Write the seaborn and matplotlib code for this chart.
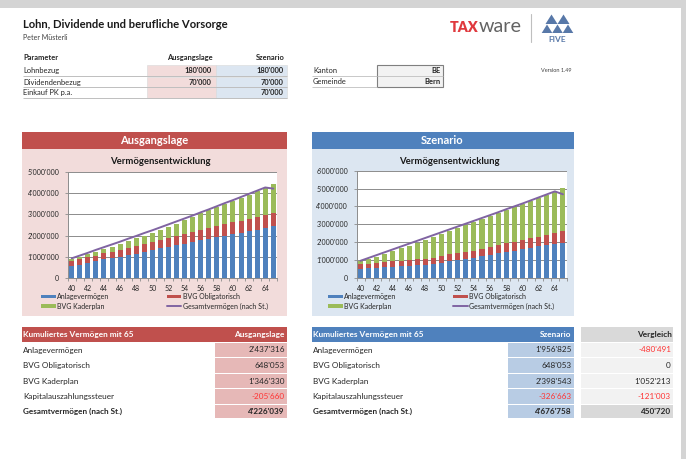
import numpy as np
import pandas as pd
import matplotlib
matplotlib.use("Agg")
import matplotlib.pyplot as plt
from matplotlib.patches import Rectangle, Polygon
from matplotlib.ticker import FuncFormatter, FixedLocator
import seaborn as sns

# ---------------- data ----------------
ages = [40, 41, 42, 43, 44, 45, 46, 47, 48, 49, 50, 51, 52,
        53, 54, 55, 56, 57, 58, 59, 60, 61, 62, 63, 64, 65]

anlage_A = [570000, 620000, 700000, 780000, 870000, 920000, 980000, 1060000, 1140000, 1220000,
            1300000, 1390000, 1460000, 1530000, 1600000, 1680000, 1770000, 1840000, 1910000,
            1980000, 2060000, 2130000, 2200000, 2270000, 2340000, 2437316]
oblig_A = [220000, 250000, 270000, 270000, 280000, 310000, 330000, 350000, 370000, 390000,
           400000, 420000, 430000, 450000, 460000, 470000, 480000, 510000, 530000, 550000,
           570000, 580000, 600000, 620000, 640000, 648053]
kader_A = [100000, 100000, 140000, 160000, 200000, 250000, 290000, 340000, 360000, 390000,
           410000, 460000, 510000, 590000, 680000, 750000, 800000, 850000, 910000, 970000,
           1010000, 1080000, 1140000, 1210000, 1290000, 1346330]
gesamt_A = [920000, 1050000, 1180000, 1320000, 1450000, 1580000, 1710000, 1850000, 1980000,
            2120000, 2250000, 2390000, 2530000, 2670000, 2810000, 2950000, 3100000, 3240000,
            3390000, 3540000, 3680000, 3830000, 3980000, 4130000, 4280000, 4226039]

anlage_S = [500000, 530000, 560000, 600000, 620000, 640000, 670000, 700000, 730000, 760000,
            840000, 930000, 980000, 1030000, 1120000, 1200000, 1290000, 1370000, 1450000,
            1520000, 1600000, 1680000, 1760000, 1830000, 1900000, 1956825]
oblig_S = [260000, 260000, 270000, 280000, 290000, 310000, 330000, 330000, 340000, 360000,
           360000, 390000, 390000, 390000, 400000, 400000, 410000, 440000, 470000, 480000,
           490000, 520000, 520000, 540000, 580000, 648053]
kader_S = [170000, 260000, 350000, 470000, 590000, 690000, 800000, 930000, 1060000, 1180000,
           1250000, 1300000, 1400000, 1510000, 1580000, 1670000, 1740000, 1800000, 1860000,
           1950000, 2030000, 2090000, 2170000, 2250000, 2320000, 2398543]
gesamt_S = [950000, 1110000, 1270000, 1430000, 1590000, 1750000, 1910000, 2070000, 2230000,
            2390000, 2550000, 2710000, 2870000, 3030000, 3190000, 3350000, 3510000, 3670000,
            3840000, 4000000, 4160000, 4330000, 4500000, 4670000, 4840000, 4676758]

legend_labels = ["Anlagevermögen", "BVG Obligatorisch", "BVG Kaderplan", "Gesamtvermögen (nach St.)"]

param_labels = ["Lohnbezug", "Dividendenbezug", "Einkauf PK p.a."]
param_A = [180000, 70000, None]
param_S = [180000, 70000, 70000]
ort_labels = ["Kanton", "Gemeinde"]
ort_values = ["BE", "Bern"]

table_labels = ["Anlagevermögen", "BVG Obligatorisch", "BVG Kaderplan",
                "Kapitalauszahlungssteuer", "Gesamtvermögen (nach St.)"]
table_A = [2437316, 648053, 1346330, -205660, 4226039]
table_S = [1956825, 648053, 2398543, -326663, 4676758]
table_V = [-480491, 0, 1052213, -121003, 450720]

# ---------------- style ----------------
sns.set_theme(style="white")
plt.rcParams['font.family'] = ['Lato', 'DejaVu Sans']

BLUE = "#4f81bd"
RED = "#c0504d"
GREEN = "#9bbb59"
PURPLE = "#8064a2"
PINK_PANEL = "#f2dcdb"
BLUE_PANEL = "#dce6f1"
PINK_CELL = "#e6b8b7"
BLUE_CELL = "#b8cce4"
DARK = "#262626"
NEG = "#ff3333"
GRID = "#8c8c8c"


def fmt(v):
    return f"{int(v):,}".replace(",", "'")


W, H = 686, 459
fig = plt.figure(figsize=(W / 100, H / 100), dpi=100)
fig.patch.set_facecolor("white")
bg = fig.add_axes([0, 0, 1, 1])
bg.set_xlim(0, W)
bg.set_ylim(H, 0)
bg.axis("off")
renderer = fig.canvas.get_renderer()


def fit(sample, target, bold=False):
    t = bg.text(0, 0, sample, fontsize=10, fontweight="bold" if bold else "normal")
    w = t.get_window_extent(renderer).width
    t.remove()
    return 10 * target / w


def T(x, y, s, size, bold=False, ha="left", color=DARK, weight=None):
    return bg.text(x, y, s, fontsize=size,
                   fontweight=weight if weight else ("bold" if bold else "normal"),
                   ha=ha, va="center", color=color)


def R(x0, y0, x1, y1, fc, ec="none", lw=0):
    bg.add_patch(Rectangle((x0, y0), x1 - x0, y1 - y0, fc=fc, ec=ec, lw=lw))


def HL(x0, x1, y, color="#bfbfbf", lw=0.6):
    bg.plot([x0, x1], [y, y], color=color, lw=lw, solid_capstyle="butt")


# sizes
s_title = fit("Lohn, Dividende und berufliche Vorsorge", 207, True)
s_sub = fit("Peter Müsterli", 44)
s_par = fit("Dividendenbezug", 58)
s_head = fit("Ausgangslage", 68, True)
s_ctitle = fit("Vermögensentwicklung", 101, True)
s_tick = fit("5'000'000", 31)
s_leg = fit("Gesamtvermögen (nach St.)", 84)
s_tab = fit("Anlagevermögen", 60)
s_tabh = fit("Kumuliertes Vermögen mit 65", 111, True)
s_ver = fit("Version 1.49", 31)

# page frame
R(0, 0, W, 7.5, "#d4d4d4")
R(681, 0, W, H, "#d4d4d4")

# title
T(23, 24, "Lohn, Dividende und berufliche Vorsorge", s_title, True, color="#1a1a1a")
T(23, 37, "Peter Müsterli", s_sub, color="#404040")

# parameter table
T(23, 57.5, "Parameter", s_par, True)
T(213, 57.5, "Ausgangslage", s_par, True, ha="right")
T(285, 57.5, "Szenario", s_par, True, ha="right")
row_tops = [65, 76.5, 87]
row_h = 10.5
for i, lab in enumerate(param_labels):
    y0 = row_tops[i]
    R(147, y0, 215.5, y0 + row_h, PINK_PANEL, "#d9d9d9", 0.4)
    R(215.5, y0, 287, y0 + row_h, BLUE_PANEL, "#d9d9d9", 0.4)
    HL(23, 287, y0 + row_h, "#bfbfbf", 0.7)
    T(23, y0 + row_h / 2 + 0.3, lab, s_par)
    if param_A[i] is not None:
        T(212, y0 + row_h / 2 + 0.3, fmt(param_A[i]), s_par, True, ha="right")
    if param_S[i] is not None:
        T(284, y0 + row_h / 2 + 0.3, fmt(param_S[i]), s_par, True, ha="right")

# Kanton / Gemeinde
R(376.7, 64.5, 442.7, 87.3, "#f2f2f2", "#7f7f7f", 0.8)
HL(376.7, 442.7, 76, "#bfbfbf", 0.6)
for i, (lab, val) in enumerate(zip(ort_labels, ort_values)):
    yc = 70.5 + i * 11
    T(313, yc, lab, s_par)
    T(440.5, yc, val, s_par, True, ha="right")
    HL(312, 376.7, yc + 5.5, "#bfbfbf", 0.6)
T(556.7, 70.7, "Version 1.49", s_ver, color="#404040", ha="center")

# logo
t1 = T(450, 27.3, "TAX", fit("TAX", 28, True), weight="heavy", color="#e0393e")
ext = t1.get_window_extent(renderer)
T(ext.x1 + 0.3, 26.3, "ware", fit("ware", 43), weight="normal", color="#636363")
bg.plot([531, 531], [14, 42], color="#bfbfbf", lw=0.8)
LOGO = "#5878a8"
for cx in (551.5, 563.5):
    bg.add_patch(Polygon([[cx - 6, 24], [cx + 6, 24], [cx, 14.5]], closed=True, fc=LOGO, ec="none"))
for cx in (547, 557.5, 568):
    bg.add_patch(Polygon([[cx - 5.3, 33], [cx + 5.3, 33], [cx, 24.5]], closed=True, fc=LOGO, ec="none"))
T(557.5, 39, "FIVE", fit("FIVE", 18, True), True, ha="center", color=LOGO)


# ---------------- charts ----------------
def chart(px, hdr_rect, hdr_color, panel_color, header, anl, obl, kad, ges, ymax, leg_x):
    hx0, hx1 = hdr_rect
    R(hx0, 131.5, hx1, 149, hdr_color)
    R(hx0, 149, hx1, 315.5, panel_color)
    T((hx0 + hx1) / 2, 140.3, header, s_head, True, ha="center", color="white")
    x0, y0, x1, y1 = px
    T((x0 + x1) / 2 - 12, 161.5, "Vermögensentwicklung", s_ctitle, True, ha="center", color="#1a1a1a")
    ax = fig.add_axes([x0 / W, 1 - y1 / H, (x1 - x0) / W, (y1 - y0) / H])
    ax.set_facecolor("white")
    df = pd.DataFrame({"Alter": ages, "anl": anl, "obl": obl, "kad": kad, "ges": ges})
    df["top_obl"] = df["anl"] + df["obl"]
    df["top_kad"] = df["top_obl"] + df["kad"]
    for col, c in [("top_kad", GREEN), ("top_obl", RED), ("anl", BLUE)]:
        sns.barplot(data=df, x="Alter", y=col, color=c, saturation=1, width=0.62,
                    errorbar=None, linewidth=0, ax=ax)
    sns.lineplot(x=np.arange(len(ages)), y=df["ges"].values, color=PURPLE, lw=1.4, ax=ax)
    ax.set_xlim(-0.5, len(ages) - 0.5)
    ax.set_ylim(0, ymax)
    ax.set_yticks(np.arange(0, ymax + 1, 1000000))
    ax.yaxis.set_major_formatter(FuncFormatter(lambda v, p: fmt(v)))
    ax.set_xticks(np.arange(0, len(ages), 2))
    ax.set_xticklabels([str(a) for a in ages[::2]])
    ax.xaxis.set_minor_locator(FixedLocator(np.arange(-0.5, len(ages), 1)))
    ax.set_xlabel("")
    ax.set_ylabel("")
    ax.yaxis.grid(True, color=GRID, lw=0.7)
    ax.set_axisbelow(True)
    for s in ("top", "right"):
        ax.spines[s].set_visible(False)
    for s in ("left", "bottom"):
        ax.spines[s].set_color(GRID)
        ax.spines[s].set_linewidth(0.7)
    ax.tick_params(axis="y", which="major", left=True, length=2, width=0.6, color=GRID,
                   labelsize=s_tick, labelcolor=DARK, pad=4)
    ax.tick_params(axis="x", which="major", bottom=True, length=0, labelsize=s_tick,
                   labelcolor=DARK, pad=5)
    ax.tick_params(axis="x", which="minor", bottom=True, length=2, width=0.6, color=GRID)
    # legend (Excel style, two columns below plot)
    c1, c2 = leg_x
    r1, r2 = 296.5, 306
    R(c1, r1 - 1.8, c1 + 14.5, r1 + 1.8, BLUE)
    T(c1 + 16, r1, legend_labels[0], s_leg)
    R(c2, r1 - 1.8, c2 + 14.5, r1 + 1.8, RED)
    T(c2 + 16, r1, legend_labels[1], s_leg)
    R(c1, r2 - 1.8, c1 + 14.5, r2 + 1.8, GREEN)
    T(c1 + 16, r2, legend_labels[2], s_leg)
    bg.plot([c2, c2 + 14.5], [r2, r2], color=PURPLE, lw=1.4)
    T(c2 + 16, r2, legend_labels[3], s_leg)
    return ax


chart((67.7, 172.3, 277.3, 277.7), (22, 287), RED, PINK_PANEL, "Ausgangslage",
      anlage_A, oblig_A, kader_A, gesamt_A, 5000000, (41, 166.7))
chart((356.5, 170.7, 567, 277.7), (311.5, 573.5), BLUE, BLUE_PANEL, "Szenario",
      anlage_S, oblig_S, kader_S, gesamt_S, 6000000, (328, 453))

# ---------------- bottom tables ----------------
cell_rows = [(342.7, 357.3), (358.3, 372.7), (374, 388.3), (389.3, 403.7), (404.7, 418.3)]


def table(x0, x1, cx0, hdr_color, cell_color, title, values):
    R(x0, 327.3, x1, 341.7, hdr_color)
    T(x0 + 1.2, 334.5, "Kumuliertes Vermögen mit 65", s_tabh, True, color="white")
    T(x1 - 2.3, 334.5, title, s_tabh, True, ha="right", color="white")
    for i, (lab, v) in enumerate(zip(table_labels, values)):
        ya, yb = cell_rows[i]
        yc = (ya + yb) / 2
        bold = i == len(values) - 1
        R(cx0, ya, x1, yb, cell_color)
        T(x0 + 1.2, yc, lab, s_tab, bold)
        T(x1 - 2.3, yc, fmt(v), s_tab, bold, ha="right", color=NEG if v < 0 else DARK)


table(22, 287, 215, RED, PINK_CELL, "Ausgangslage", table_A)
table(311.5, 574, 508, BLUE, BLUE_CELL, "Szenario", table_S)

# Vergleich column
R(580.7, 327.3, 673.3, 341.7, "#d9d9d9")
T(671.5, 334.5, "Vergleich", s_tabh, True, ha="right")
for i, v in enumerate(table_V):
    ya, yb = cell_rows[i]
    last = i == len(table_V) - 1
    R(580.7, ya, 673.3, yb, "#d9d9d9" if last else "#f2f2f2")
    T(671, (ya + yb) / 2, fmt(v), s_tab, last, ha="right", color=NEG if v < 0 else DARK)

fig.savefig("out.png", dpi=100, facecolor="white")
